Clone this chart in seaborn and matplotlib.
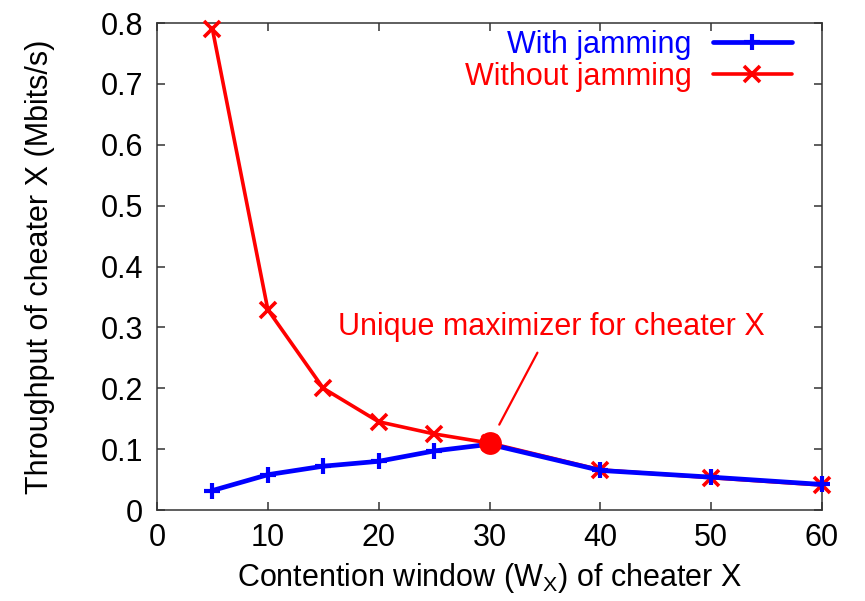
import matplotlib
matplotlib.use("Agg")
import matplotlib.pyplot as plt
import seaborn as sns
import pandas as pd

# Contention window of cheater X and its measured throughput (Mbits/s)
contention_window = [5, 10, 15, 20, 25, 30, 40, 50, 60]
with_jamming = [0.032, 0.058, 0.072, 0.080, 0.097, 0.108, 0.065, 0.054, 0.042]
without_jamming = [0.790, 0.329, 0.200, 0.145, 0.125, 0.110, 0.066, 0.053, 0.041]

# The unique maximizer for the cheater
max_window = [30]
max_throughput = [0.110]

x_ticks = [0, 10, 20, 30, 40, 50, 60]
y_ticks = [0, 0.1, 0.2, 0.3, 0.4, 0.5, 0.6, 0.7, 0.8]
y_tick_labels = ["0", "0.1", "0.2", "0.3", "0.4", "0.5", "0.6", "0.7", "0.8"]

sns.set_style("white")
plt.rcParams["font.family"] = ["Liberation Sans", "DejaVu Sans"]
plt.rcParams["mathtext.default"] = "regular"
plt.rcParams["text.color"] = "black"
plt.rcParams["axes.labelcolor"] = "black"
plt.rcParams["xtick.color"] = "black"
plt.rcParams["ytick.color"] = "black"

FS = 22
RED = "#ff0000"
BLUE = "#0000ff"

df = pd.DataFrame({
    "cw": contention_window,
    "with": with_jamming,
    "without": without_jamming,
})

fig, ax = plt.subplots(figsize=(8.65, 6.01), dpi=100)
fig.subplots_adjust(left=0.1815, right=0.9503, bottom=0.1514, top=0.9617)

sns.lineplot(data=df, x="cw", y="without", ax=ax, color=RED, linewidth=2.6,
             marker="x", markersize=11.5, markeredgewidth=2.6,
             markeredgecolor=RED, label="Without jamming", zorder=3,
             clip_on=False)
sns.lineplot(data=df, x="cw", y="with", ax=ax, color=BLUE, linewidth=3.4,
             marker="+", markersize=11, markeredgewidth=3.0,
             markeredgecolor=BLUE, label="With jamming", zorder=4,
             clip_on=False)

red_line, blue_line = ax.get_lines()[:2]
if ax.get_legend() is not None:
    ax.get_legend().remove()

# Filled dot marking the maximizer
sns.scatterplot(x=max_window, y=max_throughput, ax=ax, color=RED, s=270,
                linewidth=0, zorder=10, legend=False)

legend_kw = dict(loc="center right", markerfirst=False, frameon=False,
                 borderpad=0, borderaxespad=0, handlelength=2.6,
                 handletextpad=0.7, labelcolor="linecolor", fontsize=FS)
leg1 = ax.legend(handles=[blue_line], labels=["With jamming"],
                 bbox_to_anchor=(0.955, 0.955), **legend_kw)
ax.add_artist(leg1)
ax.legend(handles=[red_line], labels=["Without jamming"],
          bbox_to_anchor=(0.955, 0.889), **legend_kw)

ax.annotate("Unique maximizer for cheater X",
            xy=(max_window[0], max_throughput[0]), xytext=(35.55, 0.3006),
            ha="center", va="center", color=RED, fontsize=FS,
            arrowprops=dict(arrowstyle="-", color=RED, lw=1.6,
                            shrinkA=6, shrinkB=15))

ax.set_xlim(0, 60)
ax.set_ylim(0, 0.8)
ax.set_xticks(x_ticks)
ax.set_xticklabels([str(t) for t in x_ticks])
ax.set_yticks(y_ticks)
ax.set_yticklabels(y_tick_labels)

ax.tick_params(axis="both", which="major", direction="in", length=5.5,
               width=1.1, color="#333333", labelcolor="black", labelsize=FS,
               top=True, right=True, bottom=True, left=True)
ax.tick_params(axis="x", pad=9)
ax.tick_params(axis="y", pad=10)

for sp in ax.spines.values():
    sp.set_visible(True)
    sp.set_color("#333333")
    sp.set_linewidth(1.1)
    sp.set_zorder(1)

ax.set_xlabel("Contention window (W$_X$) of cheater X", fontsize=FS,
              labelpad=6, color="black")
ax.set_ylabel("Throughput of cheater X (Mbits/s)", fontsize=FS,
              labelpad=33, color="black")

fig.savefig("out.png", dpi=100)
